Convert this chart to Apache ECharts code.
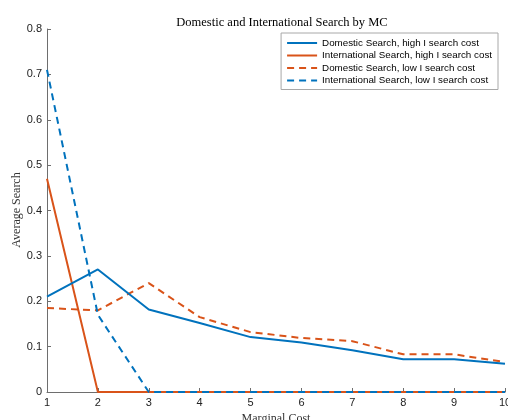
<!DOCTYPE html>
<html>
<head>
<meta charset="utf-8">
<script src="https://cdn.jsdelivr.net/npm/echarts@6/dist/echarts.min.js"></script>
<style>html,body{margin:0;padding:0;background:#fff}#c{width:508px;height:420px}</style>
</head>
<body>
<div id="c"></div>
<script>
const marginalCost = [1, 2, 3, 4, 5, 6, 7, 8, 9, 10];
const domesticHigh = [0.21, 0.27, 0.182, 0.152, 0.121, 0.109, 0.092, 0.072, 0.072, 0.062];
const internationalHigh = [0.47, 0, 0, 0, 0, 0, 0, 0, 0, 0];
const domesticLow = [0.185, 0.18, 0.24, 0.165, 0.132, 0.119, 0.112, 0.083, 0.083, 0.066];
const internationalLow = [0.71, 0.17, 0, 0, 0, 0, 0, 0, 0, 0];
const seriesNames = [
  'Domestic Search, high I search cost',
  'International Search, high I search cost',
  'Domestic Search, low I search cost',
  'International Search, low I search cost'
];
const yAxisName = 'Average Search';

const blue = '#0072BD', orange = '#D95319';
const pairs = arr => marginalCost.map((x, i) => [x, arr[i]]);
const mk = (name, arr, color, dashed, z) => ({
  name, type: 'line', data: pairs(arr), symbol: 'none', z,
  lineStyle: { color, width: 2, type: dashed ? [7, 5] : 'solid' },
  itemStyle: { color }
});

const chart = echarts.init(document.getElementById('c'));
chart.setOption({
  animation: false,
  title: {
    text: 'Domestic and International Search by MC',
    left: 277, top: 11, textAlign: 'center',
    textStyle: { fontFamily: 'Liberation Serif', fontSize: 12.5, fontWeight: 'normal', color: '#000' }
  },
  legend: {
    orient: 'vertical', right: 10, top: 33,
    backgroundColor: '#fff', borderColor: '#a8a8a8', borderWidth: 1,
    padding: [5, 6, 4, 5], itemGap: 2.5, itemWidth: 30, itemHeight: 10,
    itemStyle: { opacity: 0 },
    textStyle: { fontFamily: 'Liberation Sans', fontSize: 9.8, color: '#000' },
    data: seriesNames.map(n => ({ name: n }))
  },
  graphic: [{
    type: 'text', x: 17, y: 210, rotation: Math.PI / 2,
    style: { text: yAxisName, fontFamily: 'Liberation Serif', fontSize: 12, fill: '#333',
      textAlign: 'center', textVerticalAlign: 'middle' }
  }],
  grid: { left: 47, right: 3, top: 29, bottom: 28, containLabel: false, outerBoundsMode: 'none' },
  xAxis: {
    type: 'value', min: 1, max: 10, interval: 1,
    name: 'Marginal Cost', nameLocation: 'middle', nameGap: 21,
    nameTextStyle: { fontFamily: 'Liberation Serif', fontSize: 12, color: '#333' },
    axisLine: { show: true, lineStyle: { color: '#6e6e6e', width: 1 } },
    axisTick: { show: true, inside: true, length: 4, lineStyle: { color: '#6e6e6e' } },
    axisLabel: { fontFamily: 'Liberation Sans', fontSize: 11, color: '#222', margin: 5 },
    splitLine: { show: false }
  },
  yAxis: {
    type: 'value', min: 0, max: 0.8, interval: 0.1,
    axisLine: { show: true, lineStyle: { color: '#6e6e6e', width: 1 } },
    axisTick: { show: true, inside: true, length: 4, lineStyle: { color: '#6e6e6e' } },
    axisLabel: { fontFamily: 'Liberation Sans', fontSize: 11, color: '#222', margin: 5,
      formatter: v => String(Math.round(v * 10) / 10) },
    splitLine: { show: false }
  },
  series: [
    mk(seriesNames[0], domesticHigh, blue, false, 4),
    mk(seriesNames[1], internationalHigh, orange, false, 3),
    mk(seriesNames[2], domesticLow, orange, true, 2),
    mk(seriesNames[3], internationalLow, blue, true, 5)
  ]
});
</script>
</body>
</html>
